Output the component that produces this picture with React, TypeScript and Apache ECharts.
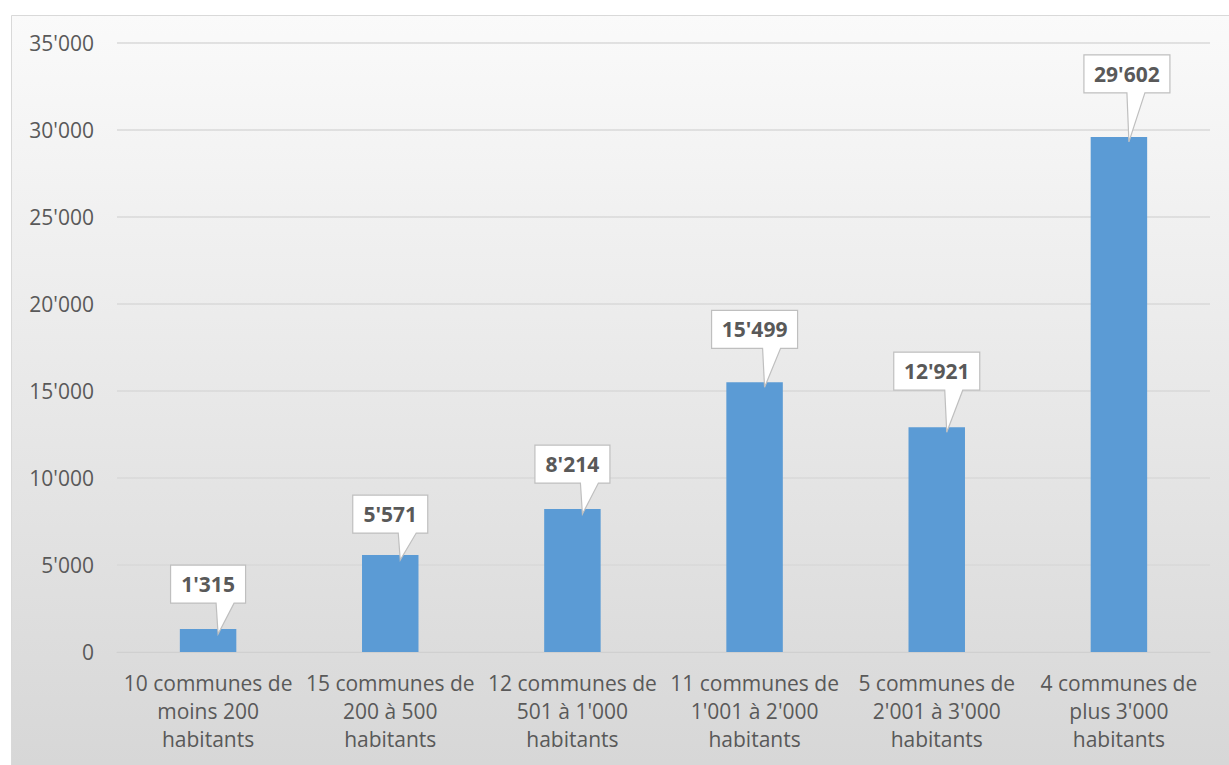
import React, { useEffect, useRef } from "react";
import * as echarts from "echarts";

const CATEGORIES = [
  "10 communes de\nmoins 200\nhabitants",
  "15 communes de\n200 à 500\nhabitants",
  "12 communes de\n501 à 1'000\nhabitants",
  "11 communes de\n1'001 à 2'000\nhabitants",
  "5 communes de\n2'001 à 3'000\nhabitants",
  "4 communes de\nplus 3'000\nhabitants",
];
const VALUES = [1315, 5571, 8214, 15499, 12921, 29602];
const LABEL_LIFT = [26, 22, 26, 34, 37, 44];
const LABEL_SHIFT = [0, 0, 0, 0, 0, 8];

const fmt = (v: number) => String(v).replace(/\B(?=(\d{3})+(?!\d))/g, "'");

const FONT = "'Open Sans', Lato, sans-serif";
const TEXT = "#595959";

export default function App() {
  const ref = useRef<HTMLDivElement>(null);
  useEffect(() => {
    document.body.style.margin = "0";
    const chart = echarts.init(ref.current!, undefined, { renderer: "svg" });
    chart.setOption({
      animation: false,
      graphic: [
        {
          type: "rect",
          z: -10,
          silent: true,
          shape: { x: 11.5, y: 15.5, width: 1240, height: 770 },
          style: {
            fill: new echarts.graphic.LinearGradient(0, 0, 0, 1, [
              { offset: 0, color: "#fafafa" },
              { offset: 1, color: "#d6d6d6" },
            ]),
            stroke: "#d9d9d9",
            lineWidth: 1,
          },
        },
      ],
      grid: { left: 117, right: 19, top: 43, bottom: 113 },
      xAxis: {
        type: "category",
        data: CATEGORIES,
        axisLine: { show: true, lineStyle: { color: "#d0d0d0" } },
        axisTick: { show: false },
        axisLabel: {
          interval: 0,
          color: TEXT,
          fontFamily: FONT,
          fontSize: 21,
          lineHeight: 28,
          margin: 17,
        },
      },
      yAxis: {
        type: "value",
        min: 0,
        max: 35000,
        interval: 5000,
        axisLine: { show: false },
        axisTick: { show: false },
        splitLine: { lineStyle: { color: "#d9d9d9", width: 1.5 } },
        axisLabel: {
          color: TEXT,
          fontFamily: FONT,
          fontSize: 21,
          margin: 23,
          formatter: (v: number) => fmt(v),
        },
      },
      series: [
        {
          type: "bar",
          data: VALUES,
          barWidth: "31%",
          itemStyle: { color: "#5B9BD5" },
        },
        {
          type: "custom",
          z: 10,
          data: VALUES.map((v, i) => [i, v]),
          encode: { x: 0, y: 1 },
          renderItem: (params: any, api: any) => {
            const idx = api.value(0);
            const v = api.value(1);
            const pt = api.coord([idx, v]);
            const x0 = pt[0];
            const y0 = pt[1];
            const label = fmt(v);
            const w = 11 * label.length + 20;
            const h = 38;
            const bottom = y0 - LABEL_LIFT[params.dataIndex];
            const top = bottom - h;
            const cx = x0 + LABEL_SHIFT[params.dataIndex];
            const left = cx - w / 2;
            const right = cx + w / 2;
            return {
              type: "group",
              children: [
                {
                  type: "polygon",
                  shape: {
                    points: [
                      [left, top],
                      [right, top],
                      [right, bottom],
                      [x0 + 26, bottom],
                      [x0 + 10, y0 + 5],
                      [x0 + 8, bottom],
                      [left, bottom],
                    ],
                  },
                  style: { fill: "#ffffff", stroke: "#bfbfbf", lineWidth: 1.2 },
                },
                {
                  type: "text",
                  x: cx,
                  y: top + h / 2,
                  style: {
                    text: label,
                    fill: TEXT,
                    font: `bold 21px ${FONT}`,
                    align: "center",
                    verticalAlign: "middle",
                  },
                },
              ],
            };
          },
        },
      ],
    });
    return () => chart.dispose();
  }, []);
  return <div ref={ref} style={{ width: 1229, height: 765 }} />;
}
